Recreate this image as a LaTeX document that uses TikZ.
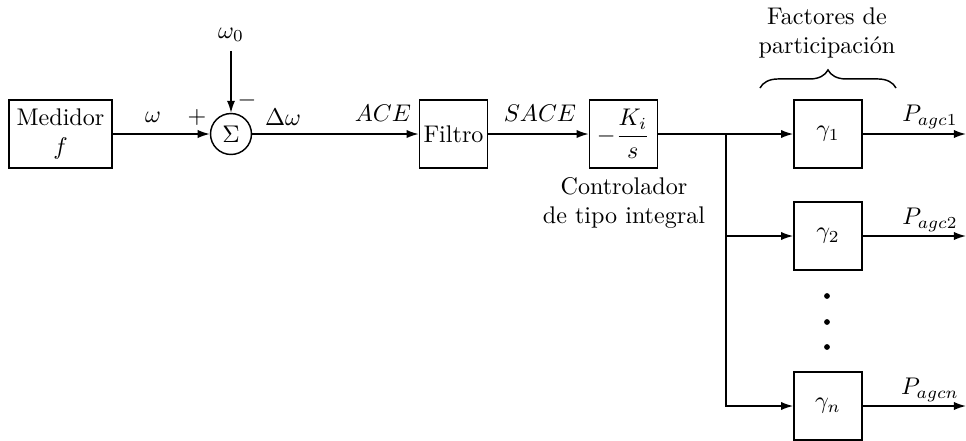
\documentclass[tikz,border=0pt]{standalone}
\usepackage{amsmath}
\usetikzlibrary{decorations.pathreplacing,arrows.meta}

\begin{document}
\begin{tikzpicture}[x=0.415pt,y=-0.415pt,>={Latex[length=5pt,width=3.4pt]},semithick,
    bloque/.style={draw,minimum width=28.3pt,minimum height=28.3pt,inner sep=1pt}]
  \useasboundingbox (0,0) rectangle (966,441);

  % bloques principales
  \node [bloque,minimum width=42.7pt,align=center] (medidor) at (60.5,134) {Medidor\\$f$};
  \node [draw,circle,minimum size=17pt,inner sep=0pt] (suma) at (231,134) {$\Sigma$};
  \node (w0) at (231,35) {$\omega_0$};
  \node [bloque] (filtro) at (453.5,134) {Filtro};
  \node [bloque] (ctrl) at (623.5,134) {$-\dfrac{K_i}{s}$};
  \node [align=center] (ctrltxt) at (624,203) {Controlador\\de tipo integral};

  % factores de participacion
  \node [bloque] (g1) at (828,134) {$\gamma_1$};
  \node [bloque] (g2) at (828,236) {$\gamma_2$};
  \node [bloque] (gn) at (828,406) {$\gamma_n$};
  \node [align=center] (factores) at (827,33) {Factores de\\participación};
  \draw [decorate,decoration={brace,amplitude=7.5pt}] (760,88) -- (896,88);
  \foreach \y in {296,322,347}
    \fill (827,\y) circle (1.2pt);

  % conexiones
  \draw [->] (medidor) -- (suma);
  \draw [->] (w0) -- (suma);
  \draw [->] (suma) -- (filtro);
  \draw [->] (filtro) -- (ctrl);
  \coordinate (rama) at (726,134);
  \draw (ctrl) -- (rama);
  \draw [->] (rama) -- (g1);
  \draw [->] (rama) |- (g2);
  \draw [->] (rama) |- (gn);
  \draw [->] (g1) -- (966,134);
  \draw [->] (g2) -- (966,236);
  \draw [->] (gn) -- (966,406);

  % etiquetas
  \node at (153,117) {$\omega$};
  \node at (197,117) {$+$};
  \node at (247,100) {$-$};
  \node at (283,117) {$\Delta\omega$};
  \node at (383,113) {$ACE$};
  \node at (540,113) {$SACE$};
  \node at (930,117) {$P_{agc1}$};
  \node at (930,220) {$P_{agc2}$};
  \node at (930,390) {$P_{agcn}$};
\end{tikzpicture}
\end{document}
